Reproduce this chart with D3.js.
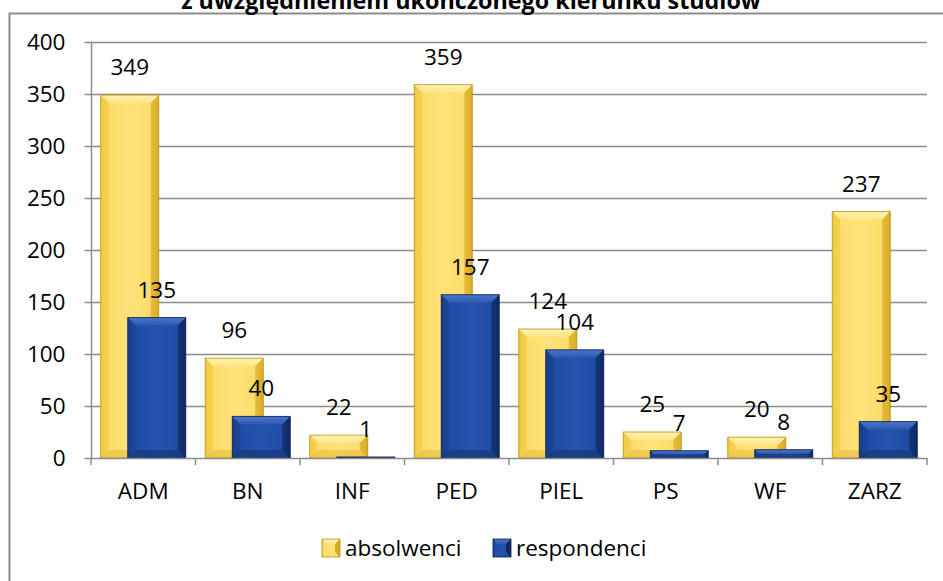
<!DOCTYPE html>
<html><head><meta charset="utf-8">
<script src="https://cdn.jsdelivr.net/npm/d3@7"></script>
<style>body{margin:0;background:#fff}svg{display:block}text{font-family:"Open Sans",sans-serif}</style>
</head><body>
<svg id="c" width="943" height="581"></svg>
<script>
const title = "z uwzględnieniem ukończonego kierunku studiów";
const categories = ["ADM","BN","INF","PED","PIEL","PS","WF","ZARZ"];
const absolwenci = [349,96,22,359,124,25,20,237];
const respondenci = [135,40,1,157,104,7,8,35];
const seriesNames = ["absolwenci","respondenci"];
const yTicks = [0,50,100,150,200,250,300,350,400];

const FS = 22.5;
const svg = d3.select("#c");
const x = d3.scaleBand().domain(categories).range([91,927]);
const y = d3.scaleLinear().domain([0,400]).range([458,42]);
const barW = 58, offA = -42.5, offR = -15.5;

// outer border
svg.append("rect").attr("x",9.5).attr("y",13.5).attr("width",945).attr("height",600)
  .attr("fill","#fff").attr("stroke","#8c8c8c").attr("stroke-width",2);

// title (cut off at top as in the original)
svg.append("text").attr("x",471).attr("y",9).attr("text-anchor","middle")
  .attr("font-size",23.3).attr("font-weight","bold").attr("fill","#000").text(title);

// gridlines
svg.append("g").selectAll("line").data(yTicks.filter(d=>d>0)).join("line")
  .attr("x1",91).attr("x2",927).attr("y1",d=>Math.round(y(d))+0.5).attr("y2",d=>Math.round(y(d))+0.5)
  .attr("stroke","#8c8c8c").attr("stroke-width",1.5);

// y axis
const ya = svg.append("g").attr("transform","translate(91.5,0)")
  .call(d3.axisLeft(y).tickValues(yTicks).tickSize(7).tickPadding(19).tickFormat(d3.format("d")));
ya.selectAll("path,line").attr("stroke","#8c8c8c").attr("stroke-width",1.5);
ya.selectAll("text").attr("font-size",FS).attr("fill","#000").attr("font-family","'Open Sans',sans-serif").attr("dy","0.35em");
ya.select(".domain").attr("d","M0,42V458");

// defs gradients
const defs = svg.append("defs");
function grad(id, stops, horiz){
  const g = defs.append("linearGradient").attr("id",id)
    .attr("x1",0).attr("y1",0).attr("x2",horiz?1:0).attr("y2",horiz?0:1);
  stops.forEach(s=>g.append("stop").attr("offset",s[0]).attr("stop-color",s[1]));
}
grad("yMain",[[0,"#f3cb46"],[0.12,"#fddc6a"],[0.5,"#ffe27a"],[0.88,"#fddc6a"],[1,"#e2b632"]],true);
grad("yTop",[[0,"#fff1b0"],[1,"#ffe585"]],false);
grad("bMain",[[0,"#163a80"],[0.12,"#1f4ca3"],[0.5,"#2553ad"],[0.88,"#1f4ca3"],[1,"#102a60"]],true);
grad("bTop",[[0,"#4a75c9"],[1,"#2d5ab2"]],false);

const styles = {
  a:{main:"url(#yMain)",top:"url(#yTop)",left:"#f0c93e",right:"#d9ab22",bottom:"#e8be3a",stroke:"#b89012"},
  r:{main:"url(#bMain)",top:"url(#bTop)",left:"#1a4191",right:"#0f2a62",bottom:"#15377a",stroke:"#0e2250"}
};

function bar(g, cx, v, off, st){
  const x0 = cx+off, x1 = x0+barW, y0 = y(v), y1 = y(0);
  const h = y1-y0;
  const b = Math.min(8, h/2, barW/2);
  const grp = g.append("g");
  grp.append("rect").attr("x",x0).attr("y",y0).attr("width",barW).attr("height",h).attr("fill",st.main);
  if(h>2){
    grp.append("polygon").attr("points",[[x0,y0],[x1,y0],[x1-b,y0+b],[x0+b,y0+b]].join(" ")).attr("fill",st.top);
    grp.append("polygon").attr("points",[[x0,y0],[x0+b,y0+b],[x0+b,y1-b],[x0,y1]].join(" ")).attr("fill",st.left).attr("opacity",0.6);
    grp.append("polygon").attr("points",[[x1,y0],[x1-b,y0+b],[x1-b,y1-b],[x1,y1]].join(" ")).attr("fill",st.right).attr("opacity",0.7);
    grp.append("polygon").attr("points",[[x0,y1],[x0+b,y1-b],[x1-b,y1-b],[x1,y1]].join(" ")).attr("fill",st.bottom).attr("opacity",0.6);
  }
  grp.append("rect").attr("x",x0).attr("y",y0).attr("width",barW).attr("height",Math.max(h,1))
    .attr("fill","none").attr("stroke",st.stroke).attr("stroke-width",1).attr("stroke-opacity",0.8);
}

const bars = svg.append("g");
categories.forEach((c,i)=>{
  const cx = x(c)+x.bandwidth()/2;
  bar(bars,cx,absolwenci[i],offA,styles.a);
  bar(bars,cx,respondenci[i],offR,styles.r);
});

// x axis
const xa = svg.append("g");
xa.append("line").attr("x1",91).attr("x2",927).attr("y1",458.5).attr("y2",458.5).attr("stroke","#8c8c8c").attr("stroke-width",1.5);
const bounds = categories.map(c=>x(c)).concat([x.range()[1]]);
xa.selectAll("line.t").data(bounds).join("line").attr("class","t")
  .attr("x1",d=>d).attr("x2",d=>d).attr("y1",458).attr("y2",465).attr("stroke","#8c8c8c").attr("stroke-width",1.5);
xa.selectAll("text").data(categories).join("text")
  .attr("x",d=>x(d)+x.bandwidth()/2).attr("y",499).attr("text-anchor","middle")
  .attr("font-size",FS).attr("fill","#000").text(d=>d);

// value labels
const lab = svg.append("g").attr("font-size",FS).attr("fill","#000").attr("text-anchor","middle");
categories.forEach((c,i)=>{
  const cx = x(c)+x.bandwidth()/2;
  lab.append("text").attr("x",cx+offA+barW/2).attr("y",y(absolwenci[i])-20).text(absolwenci[i]);
  lab.append("text").attr("x",cx+offR+barW/2).attr("y",y(respondenci[i])-20).text(respondenci[i]);
});

// legend
const leg = svg.append("g");
const legItems = [{n:seriesNames[0],sx:322,tx:345,st:styles.a},{n:seriesNames[1],sx:493,tx:516,st:styles.r}];
legItems.forEach(it=>{
  const g = leg.append("g");
  const x0=it.sx, y0=539, s=18, b=5;
  g.append("rect").attr("x",x0).attr("y",y0).attr("width",s).attr("height",s).attr("fill",it.st.main);
  g.append("polygon").attr("points",[[x0,y0],[x0+s,y0],[x0+s-b,y0+b],[x0+b,y0+b]].join(" ")).attr("fill",it.st.top);
  g.append("polygon").attr("points",[[x0+s,y0],[x0+s-b,y0+b],[x0+s-b,y0+s-b],[x0+s,y0+s]].join(" ")).attr("fill",it.st.right);
  g.append("rect").attr("x",x0).attr("y",y0).attr("width",s).attr("height",s).attr("fill","none").attr("stroke",it.st.stroke).attr("stroke-width",0.8);
  g.append("text").attr("x",it.tx).attr("y",556).attr("font-size",FS).attr("fill","#000").text(it.n);
});
</script>
</body></html>
